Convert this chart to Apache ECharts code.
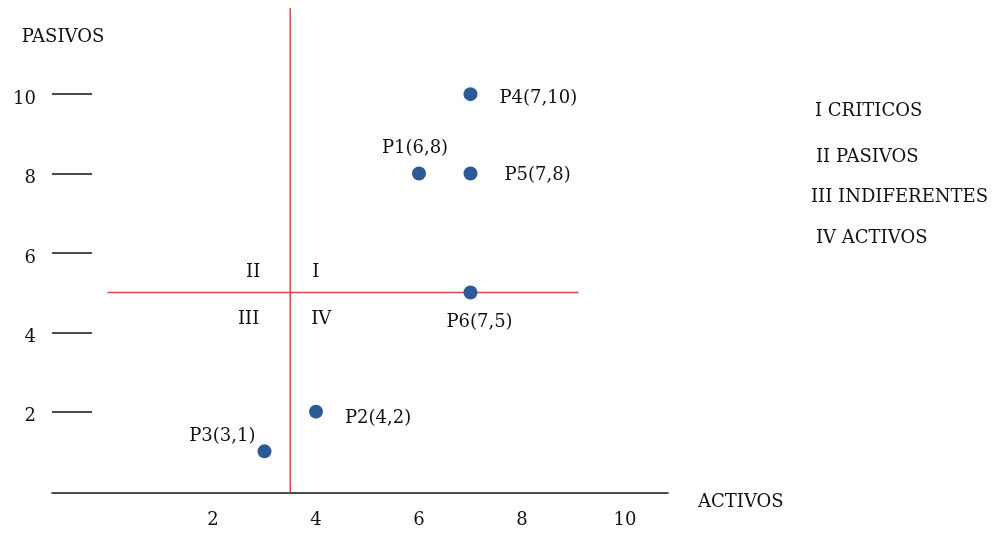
<!DOCTYPE html>
<html>
<head>
<meta charset="utf-8">
<script src="https://cdn.jsdelivr.net/npm/echarts@6/dist/echarts.min.js"></script>
<style>
  html, body { margin: 0; padding: 0; background: #ffffff; }
  #chart { width: 997px; height: 533px; }
</style>
</head>
<body>
<div id="chart"></div>
<script>
// ---- data ----
const pointNames = ['P1', 'P2', 'P3', 'P4', 'P5', 'P6'];
const activos = [6, 4, 3, 7, 7, 7];
const pasivos = [8, 2, 1, 10, 8, 5];
const xTickValues = [2, 4, 6, 8, 10];
const yTickValues = [2, 4, 6, 8, 10];
const quadrantRoman = ['I', 'II', 'III', 'IV'];
const quadrantNames = ['CRITICOS', 'PASIVOS', 'INDIFERENTES', 'ACTIVOS'];
const activosSplit = 3.5;
const pasivosSplit = 5;

// ---- layout / style ----
const FONT = 'DejaVu Serif';
const TXT = '#111111';
const RED = '#d0494b';
const BLUE = '#2d5a96';
const X_MIN = -1.126, X_MAX = 10.835;
const Y_MIN = -0.05, Y_MAX = 12.17;
const H_LINE_FROM = -0.05, H_LINE_TO = 9.1;

const pointLabelPlacement = {
  P1: { position: 'top', distance: 9, offset: [-4, 0] },
  P2: { position: 'right', distance: 22, offset: [0, 7] },
  P3: { position: 'left', distance: 2, offset: [0, -15] },
  P4: { position: 'right', distance: 22, offset: [0, 4] },
  P5: { position: 'right', distance: 27, offset: [0, 2] },
  P6: { position: 'bottom', distance: 14, offset: [9, 0] }
};
const quadrantLabelPlacement = {
  I:   { align: 'left',  offset: [22, -20] },
  II:  { align: 'right', offset: [-30, -20] },
  III: { align: 'right', offset: [-31, 27] },
  IV:  { align: 'left',  offset: [21, 27] }
};
const legendLeft = [815, 816, 811, 816];
const legendY = [110, 156, 196, 237];

const pointData = pointNames.map((n, i) => ({
  name: n,
  value: [activos[i], pasivos[i]],
  label: Object.assign({
    show: true,
    formatter: n + '(' + activos[i] + ',' + pasivos[i] + ')'
  }, pointLabelPlacement[n])
}));

const quadrantData = quadrantRoman.map(r => ({
  name: r,
  value: [activosSplit, pasivosSplit],
  label: Object.assign({
    show: true,
    position: 'inside',
    verticalAlign: 'middle',
    formatter: r
  }, quadrantLabelPlacement[r])
}));

const chart = echarts.init(document.getElementById('chart'), null, { renderer: 'canvas' });
chart.setOption({
  animation: false,
  backgroundColor: '#ffffff',
  textStyle: { fontFamily: FONT, color: TXT },
  grid: { left: 52, right: 329, top: 8, bottom: 40, containLabel: false },
  xAxis: {
    type: 'value',
    min: X_MIN,
    max: X_MAX,
    name: 'ACTIVOS',
    nameLocation: 'end',
    nameGap: 30,
    nameTextStyle: { fontFamily: FONT, fontSize: 18, color: TXT, verticalAlign: 'top' },
    axisLine: { show: true, onZero: false, lineStyle: { color: '#111111', width: 1.5 } },
    axisTick: { show: false },
    splitLine: { show: false },
    axisLabel: {
      customValues: xTickValues,
      margin: 18,
      fontFamily: FONT,
      fontSize: 18,
      color: TXT
    }
  },
  yAxis: {
    type: 'value',
    min: Y_MIN,
    max: Y_MAX,
    name: 'PASIVOS',
    nameLocation: 'end',
    nameGap: -38,
    nameTextStyle: { fontFamily: FONT, fontSize: 18, color: TXT, padding: [0, 0, 0, 22] },
    axisLine: { show: false, onZero: false },
    axisTick: {
      show: true,
      inside: true,
      length: 40,
      customValues: yTickValues,
      lineStyle: { color: '#111111', width: 1.5 }
    },
    splitLine: { show: false },
    axisLabel: {
      customValues: yTickValues,
      margin: 16,
      fontFamily: FONT,
      fontSize: 18,
      color: TXT,
      verticalAlign: 'top',
      lineHeight: 10
    }
  },
  series: [
    {
      type: 'line',
      name: 'divisor-activos',
      data: [[activosSplit, Y_MIN], [activosSplit, Y_MAX]],
      symbol: 'none',
      lineStyle: { color: RED, width: 1.5 },
      silent: true,
      z: 1
    },
    {
      type: 'line',
      name: 'divisor-pasivos',
      data: [[H_LINE_FROM, pasivosSplit], [H_LINE_TO, pasivosSplit]],
      symbol: 'none',
      lineStyle: { color: RED, width: 1.5 },
      silent: true,
      z: 1
    },
    {
      type: 'scatter',
      name: 'cuadrantes',
      data: quadrantData,
      symbolSize: 0,
      itemStyle: { opacity: 1 },
      label: { fontFamily: FONT, fontSize: 18, color: TXT },
      silent: true,
      z: 2
    },
    {
      type: 'scatter',
      name: 'puntos',
      data: pointData,
      symbol: 'circle',
      symbolSize: 14,
      itemStyle: { color: BLUE, opacity: 1 },
      label: { fontFamily: FONT, fontSize: 18, color: TXT },
      z: 3
    }
  ],
  graphic: quadrantRoman.map((r, i) => ({
    type: 'text',
    left: legendLeft[i],
    top: legendY[i] - 8,
    style: {
      text: r + ' ' + quadrantNames[i],
      fontFamily: FONT,
      fontSize: 18,
      fill: TXT
    }
  }))
});
</script>
</body>
</html>
